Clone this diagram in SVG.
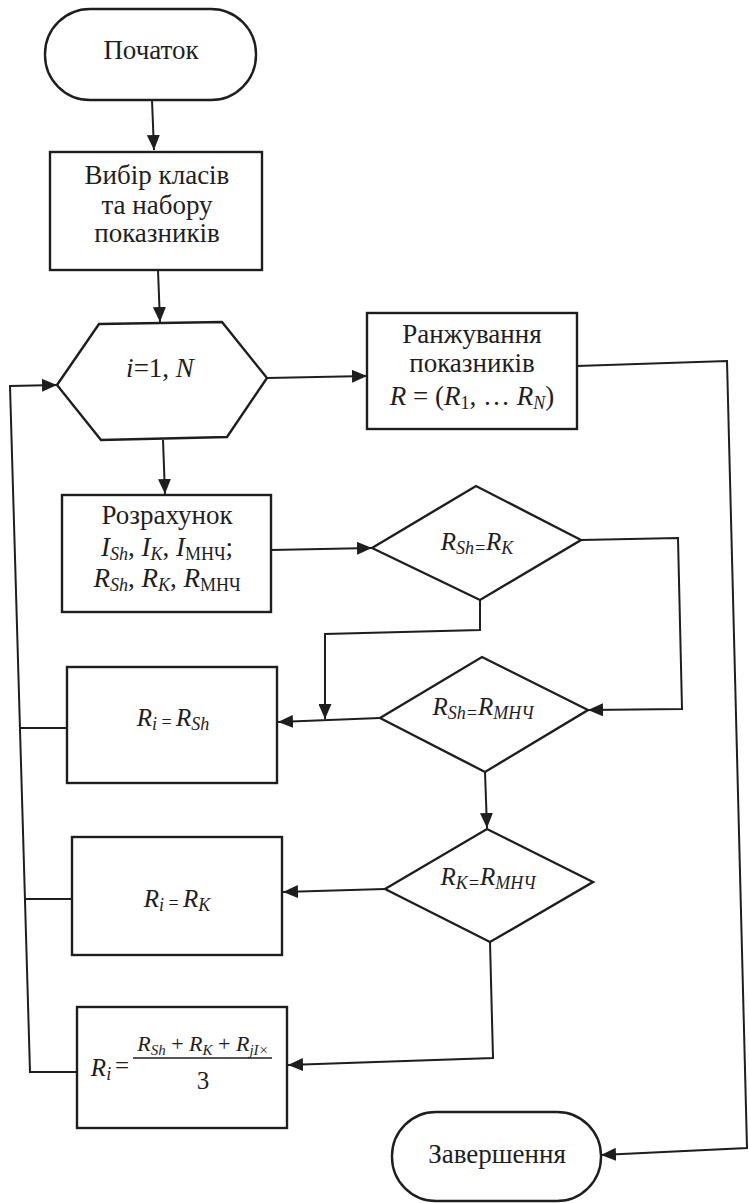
<svg xmlns="http://www.w3.org/2000/svg" width="749" height="1203" viewBox="0 0 749 1203" font-family="'Liberation Serif', 'Times New Roman', serif">
<defs>
<style>
.shape{fill:none;stroke:#1e1e1e;stroke-width:2.4;stroke-linejoin:miter}
.conn{fill:none;stroke:#1e1e1e;stroke-width:2}
text{font-family:'Liberation Serif','Times New Roman',serif;fill:#1e1e1e;text-anchor:middle}
.t{font-size:27px}
.f{font-size:25px;font-style:italic}
.sub{font-size:18px}
.up{font-style:normal}
.num{font-size:22px;font-style:italic}
.nsub{font-size:15px}
</style>
<marker id="ah" markerWidth="15" markerHeight="13" refX="15" refY="6.5" orient="auto" markerUnits="userSpaceOnUse">
<path d="M0,0 L15,6.5 L0,13 Z" fill="#1e1e1e"/>
</marker>
</defs>
<rect width="749" height="1203" fill="#ffffff"/>

<g id="connectors">
<line class="conn" x1="152" y1="100" x2="154" y2="150" marker-end="url(#ah)"/>
<line class="conn" x1="158" y1="270" x2="160" y2="322" marker-end="url(#ah)"/>
<line class="conn" x1="267" y1="378" x2="367" y2="376" marker-end="url(#ah)"/>
<polyline class="conn" points="577,366 727,361 747,1148 601,1155" marker-end="url(#ah)"/>
<line class="conn" x1="163" y1="440" x2="165" y2="494" marker-end="url(#ah)"/>
<line class="conn" x1="271" y1="550" x2="372" y2="548" marker-end="url(#ah)"/>
<polyline class="conn" points="581,540 678,538 682,709 588,710" marker-end="url(#ah)"/>
<polyline class="conn" points="480,600 480,630 325,634 325,719" marker-end="url(#ah)"/>
<line class="conn" x1="380" y1="718" x2="278" y2="722" marker-end="url(#ah)"/>
<line class="conn" x1="485" y1="772" x2="487" y2="828" marker-end="url(#ah)"/>
<line class="conn" x1="385" y1="889" x2="283" y2="892" marker-end="url(#ah)"/>
<polyline class="conn" points="490,942 493,1058 288,1065" marker-end="url(#ah)"/>
<polyline class="conn" points="77,1072 30,1072 10,386 57,385" marker-end="url(#ah)"/>
<line class="conn" x1="19" y1="728" x2="67" y2="728"/>
<line class="conn" x1="25" y1="899" x2="72" y2="899"/>
</g>

<g id="start">
<rect class="shape" x="45" y="9" width="211" height="91" rx="45" ry="45"/>
<text class="t" x="151" y="59">Початок</text>
</g>

<g id="select">
<rect class="shape" x="50" y="152" width="212" height="118"/>
<text class="t" x="157" y="184">Вибір класів</text>
<text class="t" x="157" y="214">та набору</text>
<text class="t" x="157" y="242">показників</text>
</g>

<g id="loop">
<polygon class="shape" points="57,385 99,324 222,322 267,378 227,437 101,440"/>
<text class="t" x="160" y="377"><tspan font-style="italic">i</tspan>=1, <tspan font-style="italic">N</tspan></text>
</g>

<g id="ranking">
<rect class="shape" x="367" y="313" width="210" height="116"/>
<text class="t" x="472" y="343">Ранжування</text>
<text class="t" x="472" y="372">показників</text>
<text class="t" x="472" y="405"><tspan font-style="italic">R</tspan> = (<tspan font-style="italic">R</tspan><tspan class="sub" dy="4">1</tspan><tspan dy="-4">, … </tspan><tspan font-style="italic">R</tspan><tspan class="sub" font-style="italic" dy="4">N</tspan><tspan dy="-4">)</tspan></text>
</g>

<g id="calc">
<rect class="shape" x="62" y="495" width="209" height="117"/>
<text class="t" x="167" y="524">Розрахунок</text>
<text class="t" x="167" y="556"><tspan font-style="italic">I</tspan><tspan class="sub" font-style="italic" dy="4">Sh</tspan><tspan dy="-4">, </tspan><tspan font-style="italic">I</tspan><tspan class="sub" font-style="italic" dy="4">K</tspan><tspan dy="-4">, </tspan><tspan font-style="italic">I</tspan><tspan class="sub" dy="4">МНЧ</tspan><tspan dy="-4">;</tspan></text>
<text class="t" x="167" y="587"><tspan font-style="italic">R</tspan><tspan class="sub" font-style="italic" dy="4">Sh</tspan><tspan dy="-4">, </tspan><tspan font-style="italic">R</tspan><tspan class="sub" font-style="italic" dy="4">K</tspan><tspan dy="-4">, </tspan><tspan font-style="italic">R</tspan><tspan class="sub" dy="4">МНЧ</tspan></text>
</g>

<g id="cond1">
<polygon class="shape" points="372,548 476,486 581,540 480,600"/>
<text class="f" x="477" y="550">R<tspan class="sub" dy="4">Sh=</tspan><tspan dy="-4">R</tspan><tspan class="sub" dy="4">K</tspan></text>
</g>

<g id="cond2">
<polygon class="shape" points="380,718 482,657 588,710 485,772"/>
<text class="f" x="483" y="715">R<tspan class="sub" dy="4">Sh=</tspan><tspan dy="-4">R</tspan><tspan class="sub" dy="4">МНЧ</tspan></text>
</g>

<g id="cond3">
<polygon class="shape" points="385,889 487,829 593,882 490,942"/>
<text class="f" x="488" y="885">R<tspan class="sub" dy="4">K=</tspan><tspan dy="-4">R</tspan><tspan class="sub" dy="4">МНЧ</tspan></text>
</g>

<g id="ri-sh">
<rect class="shape" x="67" y="667" width="210" height="116"/>
<text class="f" x="173" y="726">R<tspan class="sub" dy="4">i</tspan><tspan class="sub up" dy="-2"> = </tspan><tspan dy="-2">R</tspan><tspan class="sub" dy="4">Sh</tspan></text>
</g>

<g id="ri-k">
<rect class="shape" x="72" y="837" width="210" height="118"/>
<text class="f" x="177" y="907">R<tspan class="sub" dy="4">i</tspan><tspan class="sub up" dy="-2"> = </tspan><tspan dy="-2">R</tspan><tspan class="sub" dy="4">K</tspan></text>
</g>

<g id="ri-avg">
<rect class="shape" x="77" y="1007" width="210" height="121"/>
<text class="f" x="101" y="1076">R<tspan class="sub" dy="4">i</tspan></text>
<text class="t" x="122" y="1074" style="font-size:25px">=</text>
<line x1="133" y1="1058" x2="272" y2="1058" stroke="#1e1e1e" stroke-width="1.6"/>
<text class="num" x="203" y="1051">R<tspan class="nsub" dy="4">Sh</tspan><tspan class="up" dy="-4"> + </tspan>R<tspan class="nsub" dy="4">K</tspan><tspan class="up" dy="-4"> + </tspan>R<tspan class="nsub" dy="4">jI×</tspan></text>
<text class="t" x="203" y="1089" style="font-size:25px">3</text>
</g>

<g id="end">
<rect class="shape" x="392" y="1112" width="209" height="89" rx="44" ry="44"/>
<text class="t" x="497" y="1163">Завершення</text>
</g>
</svg>
